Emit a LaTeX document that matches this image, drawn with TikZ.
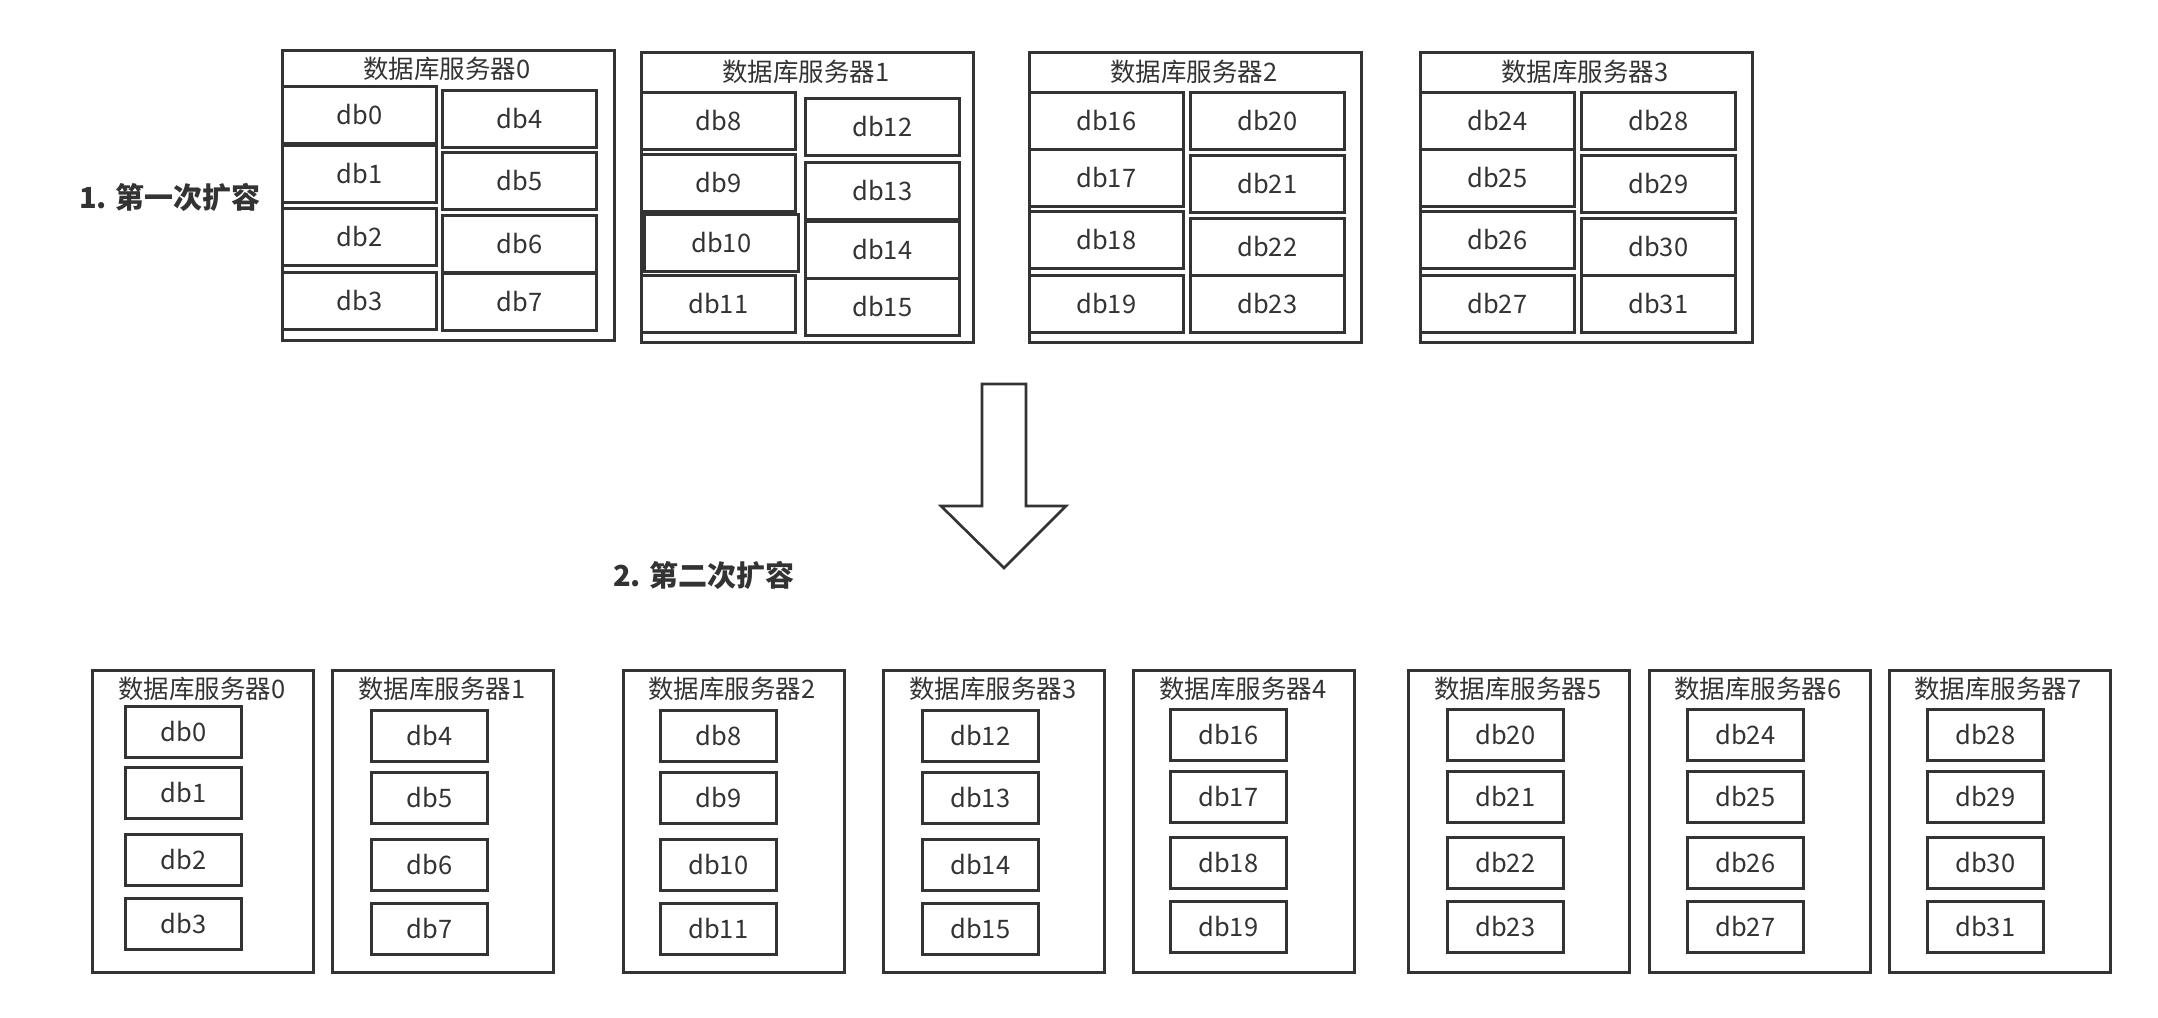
\documentclass[tikz,border=0pt]{standalone}
\usepackage{fontspec}
\setmainfont{Noto Sans CJK SC}
\usepackage{xcolor}
\definecolor{ink}{HTML}{333333}

\begin{document}
\begin{tikzpicture}[x=0.02cm, y=-0.02cm,
  srv/.style={draw=ink, line width=1.5pt, anchor=north west, inner sep=0pt},
  srvtop/.style={srv, minimum width=6.64cm, minimum height=5.8cm},
  srvbot/.style={srv, minimum width=4.42cm, minimum height=6.04cm},
  db/.style={draw=ink, line width=1.5pt, anchor=north west, inner sep=0pt, text=ink, font=\fontsize{14.5}{17}\selectfont},
  dbtop/.style={db, minimum width=3.08cm, minimum height=1.14cm},
  dbbot/.style={db, minimum width=2.32cm, minimum height=1.02cm},
  title/.style={text=ink, inner sep=0pt, font=\fontsize{14.5}{17}\selectfont},
  phase/.style={text=ink, inner sep=0pt, font=\bfseries\fontsize{16.5}{20}\selectfont}]

\useasboundingbox (0,0) rectangle (2158,1018);

\node[phase] (p1) at (170,197) {1. 第一次扩容};
\node[phase] (p2) at (704,575) {2. 第二次扩容};

\node[srvtop] (srvA0) at (281,49) {};
\node[title] (tA0) at (447,69) {数据库服务器0};
\node[dbtop] (dbA0) at (281,85) {db0};
\node[dbtop] (dbA1) at (281,144) {db1};
\node[dbtop] (dbA2) at (281,207) {db2};
\node[dbtop] (dbA3) at (281,271) {db3};
\node[dbtop] (dbA4) at (441,89) {db4};
\node[dbtop] (dbA5) at (441,151) {db5};
\node[dbtop] (dbA6) at (441,214) {db6};
\node[dbtop] (dbA7) at (441,272) {db7};

\node[srvtop] (srvA1) at (640,51) {};
\node[title] (tA1) at (806,72) {数据库服务器1};
\node[dbtop] (dbA8) at (640,91) {db8};
\node[dbtop] (dbA9) at (640,153) {db9};
\node[dbtop] (dbA10) at (643,213) {db10};
\node[dbtop] (dbA11) at (640,274) {db11};
\node[dbtop] (dbA12) at (804,97) {db12};
\node[dbtop] (dbA13) at (804,161) {db13};
\node[dbtop] (dbA14) at (804,220) {db14};
\node[dbtop] (dbA15) at (804,277) {db15};

\node[srvtop] (srvA2) at (1028,51) {};
\node[title] (tA2) at (1194,72) {数据库服务器2};
\node[dbtop] (dbA16) at (1028,91) {db16};
\node[dbtop] (dbA17) at (1028,148) {db17};
\node[dbtop] (dbA18) at (1028,210) {db18};
\node[dbtop] (dbA19) at (1028,274) {db19};
\node[dbtop] (dbA20) at (1189,91) {db20};
\node[dbtop] (dbA21) at (1189,154) {db21};
\node[dbtop] (dbA22) at (1189,217) {db22};
\node[dbtop] (dbA23) at (1189,274) {db23};

\node[srvtop] (srvA3) at (1419,51) {};
\node[title] (tA3) at (1585,72) {数据库服务器3};
\node[dbtop] (dbA24) at (1419,91) {db24};
\node[dbtop] (dbA25) at (1419,148) {db25};
\node[dbtop] (dbA26) at (1419,210) {db26};
\node[dbtop] (dbA27) at (1419,274) {db27};
\node[dbtop] (dbA28) at (1580,91) {db28};
\node[dbtop] (dbA29) at (1580,154) {db29};
\node[dbtop] (dbA30) at (1580,217) {db30};
\node[dbtop] (dbA31) at (1580,274) {db31};

% hollow arrow between the two stages
\draw[ink, line width=1.5pt, line join=miter] (982,384) -- (1026,384) -- (1026,506) -- (1066,506)
  -- (1004,568) -- (941,506) -- (982,506) -- cycle;

\node[srvbot] (srvB0) at (91,669) {};
\node[title] (tB0) at (202,689) {数据库服务器0};
\node[dbbot] (dbB0) at (124,705) {db0};
\node[dbbot] (dbB1) at (124,766) {db1};
\node[dbbot] (dbB2) at (124,833) {db2};
\node[dbbot] (dbB3) at (124,897) {db3};

\node[srvbot] (srvB1) at (331,669) {};
\node[title] (tB1) at (442,689) {数据库服务器1};
\node[dbbot] (dbB4) at (370,709) {db4};
\node[dbbot] (dbB5) at (370,771) {db5};
\node[dbbot] (dbB6) at (370,838) {db6};
\node[dbbot] (dbB7) at (370,902) {db7};

\node[srvbot] (srvB2) at (622,669) {};
\node[title] (tB2) at (732,689) {数据库服务器2};
\node[dbbot] (dbB8) at (659,709) {db8};
\node[dbbot] (dbB9) at (659,771) {db9};
\node[dbbot] (dbB10) at (659,838) {db10};
\node[dbbot] (dbB11) at (659,902) {db11};

\node[srvbot] (srvB3) at (882,669) {};
\node[title] (tB3) at (993,689) {数据库服务器3};
\node[dbbot] (dbB12) at (921,709) {db12};
\node[dbbot] (dbB13) at (921,771) {db13};
\node[dbbot] (dbB14) at (921,838) {db14};
\node[dbbot] (dbB15) at (921,902) {db15};

\node[srvbot] (srvB4) at (1132,669) {};
\node[title] (tB4) at (1243,689) {数据库服务器4};
\node[dbbot] (dbB16) at (1169,708) {db16};
\node[dbbot] (dbB17) at (1169,770) {db17};
\node[dbbot] (dbB18) at (1169,836) {db18};
\node[dbbot] (dbB19) at (1169,900) {db19};

\node[srvbot] (srvB5) at (1407,669) {};
\node[title] (tB5) at (1518,689) {数据库服务器5};
\node[dbbot] (dbB20) at (1446,708) {db20};
\node[dbbot] (dbB21) at (1446,770) {db21};
\node[dbbot] (dbB22) at (1446,836) {db22};
\node[dbbot] (dbB23) at (1446,900) {db23};

\node[srvbot] (srvB6) at (1648,669) {};
\node[title] (tB6) at (1758,689) {数据库服务器6};
\node[dbbot] (dbB24) at (1686,708) {db24};
\node[dbbot] (dbB25) at (1686,770) {db25};
\node[dbbot] (dbB26) at (1686,836) {db26};
\node[dbbot] (dbB27) at (1686,900) {db27};

\node[srvbot] (srvB7) at (1888,669) {};
\node[title] (tB7) at (1998,689) {数据库服务器7};
\node[dbbot] (dbB28) at (1926,708) {db28};
\node[dbbot] (dbB29) at (1926,770) {db29};
\node[dbbot] (dbB30) at (1926,836) {db30};
\node[dbbot] (dbB31) at (1926,900) {db31};

\end{tikzpicture}
\end{document}
